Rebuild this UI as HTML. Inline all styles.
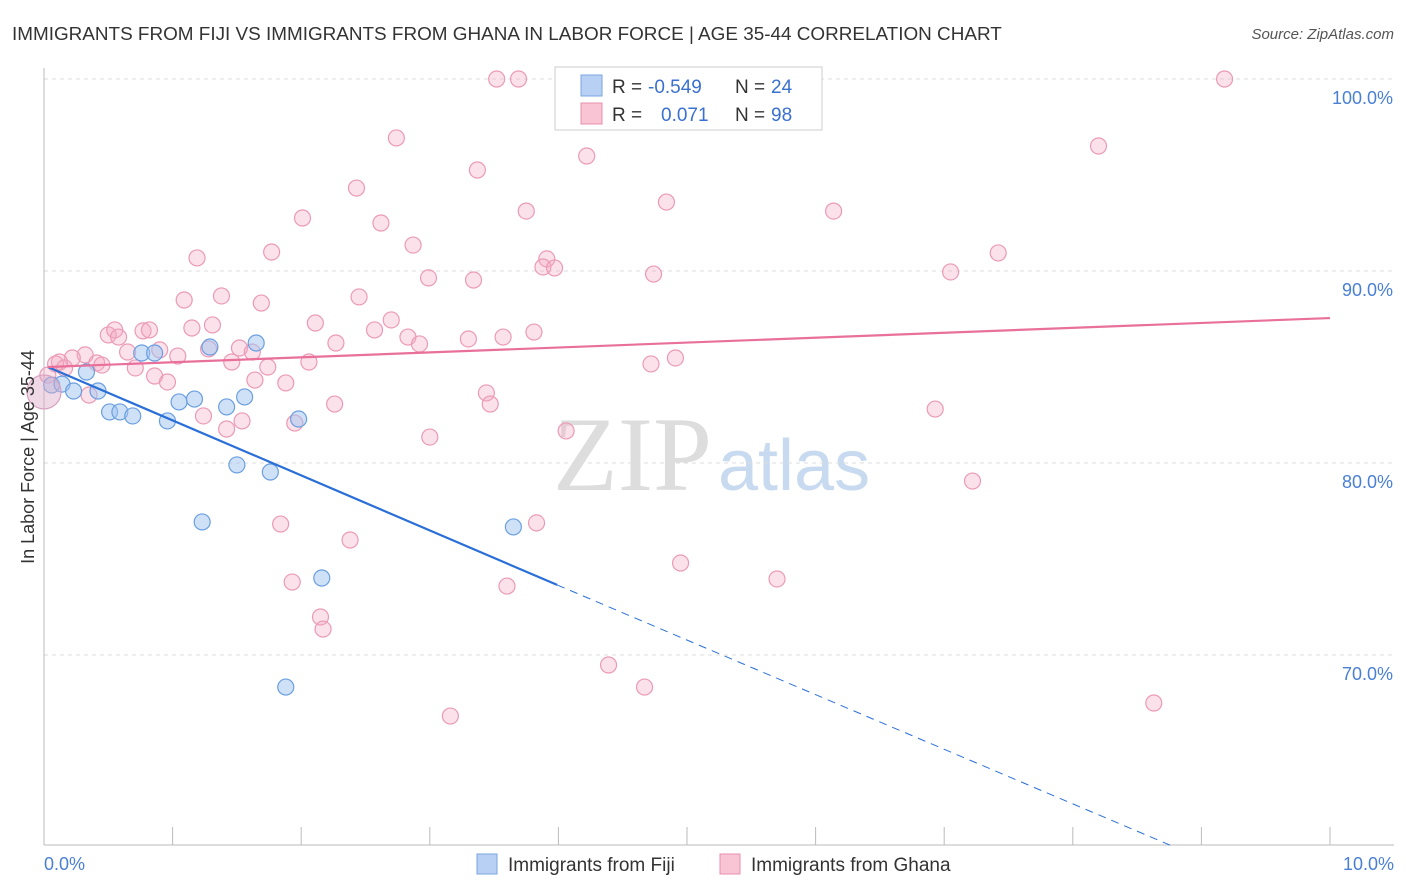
<!DOCTYPE html>
<html><head><meta charset="utf-8"><style>
body{margin:0;background:#fff;font-family:"Liberation Sans",sans-serif;}
svg{display:block}
</style></head><body>
<svg id="chart" width="1406" height="892" xmlns="http://www.w3.org/2000/svg" font-family="Liberation Sans, sans-serif">
<text x="12" y="40" font-size="18.9" fill="#333">IMMIGRANTS FROM FIJI VS IMMIGRANTS FROM GHANA IN LABOR FORCE | AGE 35-44 CORRELATION CHART</text>
<text x="1394" y="39" font-size="15" fill="#555" font-style="italic" text-anchor="end">Source: ZipAtlas.com</text>
<g>
<text x="553" y="490" font-size="106" fill="#ddd" font-family="Liberation Serif, serif">ZIP</text>
<text x="718" y="490" font-size="72" fill="#c8daf0">atlas</text>
</g>
<g id="grid"></g><g id="axes"></g><g id="marks"></g>
<g>
<rect x="555" y="67" width="267" height="63" fill="#fff" stroke="#ccc"/>
<rect x="581" y="75" width="21" height="21" fill="#b8d0f4" stroke="#7aa6e0"/>
<rect x="581" y="103" width="21" height="21" fill="#f9c4d4" stroke="#e890ac"/>
<text x="612" y="93" font-size="19" fill="#333">R =</text>
<text x="648" y="93" font-size="19" fill="#3a70d0">-0.549</text>
<text x="735" y="93" font-size="19" fill="#333">N =</text>
<text x="771" y="93" font-size="19" fill="#3a70d0">24</text>
<text x="612" y="121" font-size="19" fill="#333">R =</text>
<text x="661" y="121" font-size="19" fill="#3a70d0">0.071</text>
<text x="735" y="121" font-size="19" fill="#333">N =</text>
<text x="771" y="121" font-size="19" fill="#3a70d0">98</text>
</g>
<g>
<rect x="477" y="854" width="20" height="20" fill="#b8d0f4" stroke="#7aa6e0"/>
<text x="508" y="871" font-size="19" fill="#333">Immigrants from Fiji</text>
<rect x="720" y="854" width="20" height="20" fill="#f9c4d4" stroke="#e890ac"/>
<text x="751" y="871" font-size="19" fill="#333">Immigrants from Ghana</text>
</g>
<text transform="translate(34,457) rotate(-90)" font-size="18" fill="#333" text-anchor="middle">In Labor Force | Age 35-44</text>
</svg>
<script>
const fijiX=[0.06,0.14,0.23,0.33,0.42,0.51,0.59,0.69,0.76,0.86,0.96,1.05,1.17,1.23,1.29,1.42,1.50,1.56,1.65,1.76,1.98,1.88,2.16,3.65];
const fijiY=[84.06,84.11,83.75,84.74,83.75,82.66,82.66,82.45,85.73,85.73,82.19,83.18,83.33,76.93,86.04,82.92,79.9,83.44,86.25,79.53,82.29,68.33,74.01,76.67];
const ghanaX=[3.52,3.69,4.28,9.18,2.74,4.22,8.20,3.37,2.43,2.01,3.75,4.84,6.14,2.62,2.87,1.77,1.19,3.91,3.88,3.97,4.74,7.05,7.42,2.99,3.34,1.09,1.38,1.69,2.45,2.70,2.11,2.57,2.83,2.92,3.30,3.57,3.81,2.27,1.15,1.31,0.50,0.55,0.77,0.82,0.58,0.65,0.90,1.04,1.28,1.52,1.62,1.46,1.74,2.06,0.71,0.41,0.45,0.32,0.22,0.12,0.86,0.96,1.64,1.88,0.35,1.24,1.42,1.54,1.95,2.26,3.44,3.47,3.00,4.06,4.72,4.91,6.93,7.22,1.84,2.38,3.83,1.93,3.60,4.95,5.70,2.15,2.17,4.39,4.67,3.16,8.63,0.09,0.03,0.16];
const ghanaY=[100,100,100,100,96.93,95.99,96.51,95.26,94.32,92.76,93.12,93.59,93.12,92.5,91.35,90.99,90.68,90.63,90.21,90.16,89.84,89.95,90.94,89.64,89.53,88.49,88.70,88.33,88.65,87.45,87.29,86.93,86.56,86.20,86.46,86.56,86.82,86.25,87.03,87.19,86.67,86.93,86.88,86.93,86.56,85.78,85.89,85.57,85.94,85.99,85.78,85.26,85.0,85.26,84.95,85.21,85.10,85.63,85.47,85.26,84.53,84.22,84.32,84.17,83.54,82.45,81.77,82.19,82.08,83.07,83.65,83.07,81.35,81.67,85.16,85.47,82.81,79.06,76.82,75.99,76.88,73.8,73.59,74.79,73.96,71.98,71.35,69.48,68.33,66.82,67.5,85.16,84.58,84.95];
const bigX=[0.0], bigY=[83.7];
const fijiTrendX=[0.03,3.99,8.79], fijiTrendY=[85.0,73.65,60.0];
const ghanaTrendX=[0.03,10], ghanaTrendY=[85.0,87.55];
const yTicks=[100,90,80,70], yTickLabels=["100.0%","90.0%","80.0%","70.0%"];
const xTicks=[0,1,2,3,4,5,6,7,8,9,10];

const NS="http://www.w3.org/2000/svg";
const sx=v=>44+v*128.6, sy=v=>79+(100-v)*19.2;
function mk(tag,attrs,parent){const e=document.createElementNS(NS,tag);for(const k in attrs)e.setAttribute(k,attrs[k]);document.getElementById(parent).appendChild(e);return e;}
yTicks.forEach((t,i)=>{
 const l=mk('line',{x1:44,x2:1394,y1:sy(t),y2:sy(t),stroke:'#ddd','stroke-dasharray':'4,4'},'grid');
 
 
 const tx=mk('text',{x:1393,y:sy(t)+25,'font-size':18,fill:'#4a7fd4','text-anchor':'end'},'grid');
 tx.textContent=yTickLabels[i];
 
 
});
let a=mk('line',{x1:44,x2:44,y1:68,y2:845,stroke:'#bbb'},'axes');


a=mk('line',{x1:44,x2:1394,y1:845,y2:845,stroke:'#bbb'},'axes');


xTicks.forEach(t=>{const l=mk('line',{x1:sx(t),x2:sx(t),y1:827,y2:845,stroke:'#bbb'},'axes');
 
 });
let t=mk('text',{x:44,y:870,'font-size':18,fill:'#4a7fd4'},'axes');t.textContent='0.0%';


t=mk('text',{x:1394,y:870,'font-size':18,fill:'#4a7fd4','text-anchor':'end'},'axes');t.textContent='10.0%';


ghanaX.forEach((x,i)=>{const c=mk('circle',{cx:sx(x),cy:sy(ghanaY[i]),r:8,fill:'rgba(244,170,195,0.35)',stroke:'#eb9ab5','stroke-width':1.2},'marks');
 
 });
fijiX.forEach((x,i)=>{const c=mk('circle',{cx:sx(x),cy:sy(fijiY[i]),r:8,fill:'rgba(160,195,240,0.5)',stroke:'#6a9fe0','stroke-width':1.2},'marks');
 
 });
bigX.forEach((x,i)=>{const c=mk('circle',{cx:sx(x),cy:sy(bigY[i]),r:17,fill:'rgba(220,170,200,0.45)',stroke:'#d8a0c0','stroke-width':1.2},'marks');
 
 });
let ln=mk('line',{x1:sx(fijiTrendX[0]),y1:sy(fijiTrendY[0]),x2:sx(fijiTrendX[1]),y2:sy(fijiTrendY[1]),stroke:'#2a6fd8','stroke-width':2.2},'marks');


ln=mk('line',{x1:sx(fijiTrendX[1]),y1:sy(fijiTrendY[1]),x2:sx(fijiTrendX[2]),y2:sy(fijiTrendY[2]),stroke:'#2a6fd8','stroke-width':1,'stroke-dasharray':'8,6'},'marks');


ln=mk('line',{x1:sx(ghanaTrendX[0]),y1:sy(ghanaTrendY[0]),x2:sx(ghanaTrendX[1]),y2:sy(ghanaTrendY[1]),stroke:'#e8709a','stroke-width':2.2},'marks');


</script>
</body></html>
